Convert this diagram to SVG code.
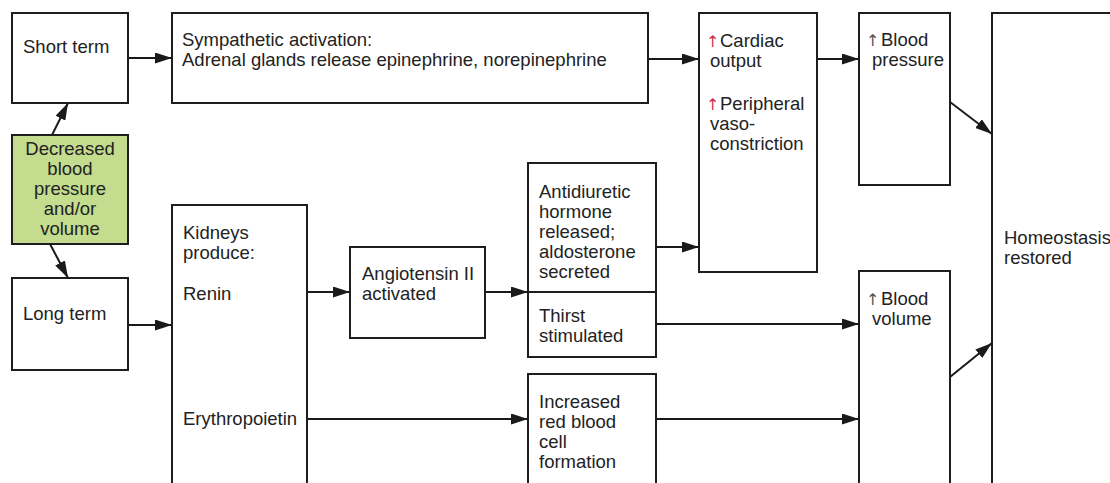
<svg xmlns="http://www.w3.org/2000/svg" width="1110" height="483" viewBox="0 0 1110 483">
<defs>
<marker id="ah" markerUnits="userSpaceOnUse" markerWidth="17" markerHeight="11" refX="17" refY="5.5" orient="auto">
<path d="M0,0 L17,5.5 L0,11 z" fill="#1a1a1a"/>
</marker>
<style>
.box{fill:#fff;stroke:#1e1e1e;stroke-width:2}
.green{fill:#c3dc8d;stroke:#1e1e1e;stroke-width:2}
text{font-family:"Liberation Sans",Arial,sans-serif;font-size:18.5px;fill:#222}
.c{text-anchor:middle}
.up{font-family:"DejaVu Sans",sans-serif;font-size:16px}
.red{fill:#c8344e}
.gray{fill:#555}
.conn line{stroke:#1a1a1a;stroke-width:2;marker-end:url(#ah)}
</style>
</defs>
<rect width="1110" height="483" fill="#fff"/>

<g id="short-term">
<rect class="box" x="12" y="13" width="116" height="90"/>
<text x="23" y="53">Short term</text>
</g>

<g id="decreased">
<rect class="green" x="12" y="135" width="116" height="109"/>
<text class="c" x="70" y="155">Decreased</text>
<text class="c" x="70" y="175">blood</text>
<text class="c" x="70" y="195">pressure</text>
<text class="c" x="70" y="215">and/or</text>
<text class="c" x="70" y="235">volume</text>
</g>

<g id="long-term">
<rect class="box" x="12" y="278" width="116" height="92"/>
<text x="23" y="320">Long term</text>
</g>

<g id="sympathetic">
<rect class="box" x="172" y="13" width="476" height="90"/>
<text x="182" y="46">Sympathetic activation:</text>
<text x="182" y="66">Adrenal glands release epinephrine, norepinephrine</text>
</g>

<g id="kidneys">
<rect class="box" x="172" y="205" width="135" height="300"/>
<text x="183" y="239">Kidneys</text>
<text x="183" y="259">produce:</text>
<text x="183" y="300">Renin</text>
<text x="183" y="425">Erythropoietin</text>
</g>

<g id="angiotensin">
<rect class="box" x="350" y="247" width="135" height="91"/>
<text x="362" y="280">Angiotensin II</text>
<text x="362" y="300">activated</text>
</g>

<g id="adh">
<rect class="box" x="528" y="163" width="128" height="129"/>
<text x="539" y="198">Antidiuretic</text>
<text x="539" y="218">hormone</text>
<text x="539" y="238">released;</text>
<text x="539" y="258">aldosterone</text>
<text x="539" y="278">secreted</text>
</g>

<g id="thirst">
<rect class="box" x="528" y="292" width="128" height="65"/>
<text x="539" y="322">Thirst</text>
<text x="539" y="342">stimulated</text>
</g>

<g id="rbc">
<rect class="box" x="528" y="374" width="128" height="200"/>
<text x="539" y="408">Increased</text>
<text x="539" y="428">red blood</text>
<text x="539" y="448">cell</text>
<text x="539" y="468">formation</text>
</g>

<g id="cardiac">
<rect class="box" x="699" y="13" width="118" height="259"/>
<text class="up red" x="706" y="47">↑</text>
<text x="720" y="47">Cardiac</text>
<text x="710" y="67">output</text>
<text class="up red" x="706" y="110">↑</text>
<text x="720" y="110">Peripheral</text>
<text x="710" y="130">vaso-</text>
<text x="710" y="150">constriction</text>
</g>

<g id="blood-pressure">
<rect class="box" x="859" y="13" width="91" height="172"/>
<text class="up gray" x="866" y="46">↑</text>
<text x="881" y="46">Blood</text>
<text x="872" y="66">pressure</text>
</g>

<g id="blood-volume">
<rect class="box" x="859" y="271" width="91" height="300"/>
<text class="up gray" x="866" y="305">↑</text>
<text x="881" y="305">Blood</text>
<text x="872" y="325">volume</text>
</g>

<g id="homeostasis">
<rect class="box" x="992" y="13" width="200" height="500"/>
<text x="1004" y="244">Homeostasis</text>
<text x="1004" y="264">restored</text>
</g>

<g id="connectors" class="conn">
<line x1="52" y1="135" x2="68" y2="103"/>
<line x1="50" y1="244" x2="68" y2="278"/>
<line x1="128" y1="58" x2="172" y2="58"/>
<line x1="128" y1="325" x2="172" y2="325"/>
<line x1="307" y1="292" x2="350" y2="292"/>
<line x1="485" y1="292" x2="528" y2="292"/>
<line x1="307" y1="419" x2="528" y2="419"/>
<line x1="648" y1="59" x2="699" y2="59"/>
<line x1="656" y1="247" x2="699" y2="247"/>
<line x1="817" y1="59" x2="859" y2="59"/>
<line x1="656" y1="324" x2="859" y2="324"/>
<line x1="656" y1="419" x2="859" y2="419"/>
<line x1="950" y1="102" x2="992" y2="134"/>
<line x1="950" y1="377" x2="992" y2="343"/>
</g>
</svg>
